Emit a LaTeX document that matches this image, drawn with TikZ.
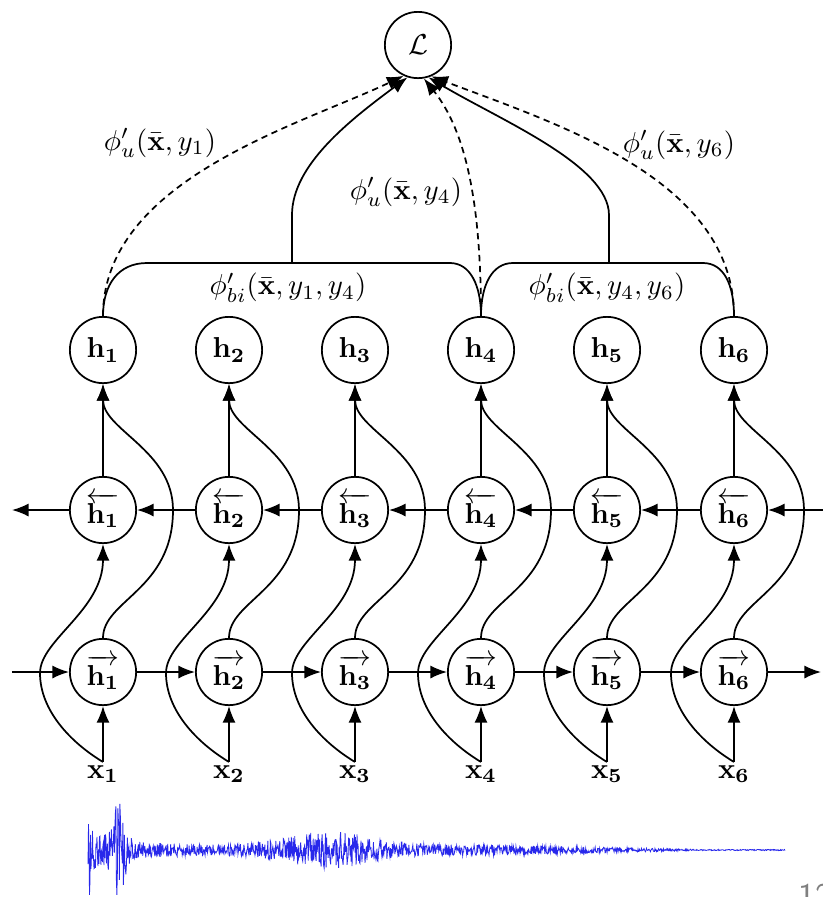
\documentclass[tikz,border=0pt]{standalone}
\usepackage{amsmath,amssymb}
\usetikzlibrary{arrows.meta}
\begin{document}
\begin{tikzpicture}[x=0.347pt,y=-0.347pt,
  unit/.style={circle,draw,minimum size=23pt,inner sep=0pt,line width=0.6pt},
  wire/.style={line width=0.6pt},
  conn/.style={line width=0.6pt,-{Latex[length=5.8pt,width=4.6pt]}},
  dsh/.style={dash pattern=on 2.2pt off 1.6pt},
  declare function={wenv(\t)=44*exp(-min((\t-88)/3,30))+40*exp(-min(((\t-119)/8)^2,30))+14*exp(-min((\t-88)/30,30))+13*exp(-min(((\t-330)/55)^2,30))+0.6+5*max(min((700-\t)/220,1),0);}]
\useasboundingbox (0,0) rectangle (823,897);
% top loss node
\node[unit] (L) at (418,45) {$\mathcal{L}$};
% columns
\foreach \i/\x in {1/103,2/229,3/355,4/481,5/607,6/734} {
  \node[unit] (h\i) at (\x,350) {$\mathbf{h_{\i}}$};
  \node[unit] (b\i) at (\x,510) {$\overleftarrow{\mathbf{h_{\i}}}$};
  \node[unit] (f\i) at (\x,672) {$\overrightarrow{\mathbf{h_{\i}}}$};
  \node[inner sep=1pt] (x\i) at (\x,774) {$\mathbf{x_{\i}}$};
  \draw[conn] (x\i) -- (f\i);
  \draw[conn] (b\i) -- (h\i);
  \draw[conn] (x\i.north) .. controls ({\x-33},742) and ({\x-63},710) .. ({\x-63},673)
      .. controls ({\x-63},640) and (\x,610) .. (b\i.south);
  \draw[conn] (f\i.north) .. controls (\x,600) and ({\x+70},590) .. ({\x+70},510)
      .. controls ({\x+70},450) and (\x,430) .. (h\i.south);
}
% recurrent chains
\foreach \i/\j in {1/2,2/3,3/4,4/5,5/6} {
  \draw[conn] (f\i) -- (f\j);
  \draw[conn] (b\j) -- (b\i);
}
\coordinate (fin) at (12,672);
\coordinate (fout) at (821,672);
\coordinate (bin) at (823,510);
\coordinate (bout) at (12,510);
\draw[conn] (fin) -- (f1);
\draw[conn] (f6) -- (fout);
\draw[conn] (bin) -- (b6);
\draw[conn] (b1) -- (bout);
% pairwise brackets
\coordinate (bl) at (292,263);
\coordinate (br) at (609,263);
\draw[wire] (h1.north) .. controls (103,285) and (118,263) .. (147,263) -- (450,263)
   .. controls (470,263) and (481,285) .. (h4.north);
\draw[wire] (h4.north) .. controls (481,285) and (492,263) .. (513,263) -- (703,263)
   .. controls (724,263) and (734,285) .. (h6.north);
\draw[conn] (bl) -- (292,215) .. controls (292,165) and (350,120) .. (L.252);
\draw[conn] (br) -- (609,215) .. controls (609,165) and (500,120) .. (L.288);
% unary dashed
\draw[conn,dsh] (h1.north) .. controls (103,180) and (300,125) .. (L.245);
\draw[conn,dsh] (h4.north) .. controls (481,200) and (465,130) .. (L.280);
\draw[conn,dsh] (h6.north) .. controls (734,180) and (560,125) .. (L.293);
% labels
\node (lu1) at (160,143) {$\phi'_u(\bar{\mathbf{x}},y_1)$};
\node (lu4) at (406,192) {$\phi'_u(\bar{\mathbf{x}},y_4)$};
\node (lu6) at (679,145) {$\phi'_u(\bar{\mathbf{x}},y_6)$};
\node (lb14) at (288,288) {$\phi'_{bi}(\bar{\mathbf{x}},y_1,y_4)$};
\node (lb46) at (607,288) {$\phi'_{bi}(\bar{\mathbf{x}},y_4,y_6)$};
% waveform
\pgfmathsetseed{7}
\draw[color={rgb,255:red,40;green,40;blue,235},line width=0.28pt]
  plot[domain=88:785,samples=1400] (\x,{850+wenv(\x)*rand});
% page number
\node[anchor=north,inner sep=0pt,text=gray,font=\sffamily\large] (pg) at (815,884) {12};
\end{tikzpicture}
\end{document}
